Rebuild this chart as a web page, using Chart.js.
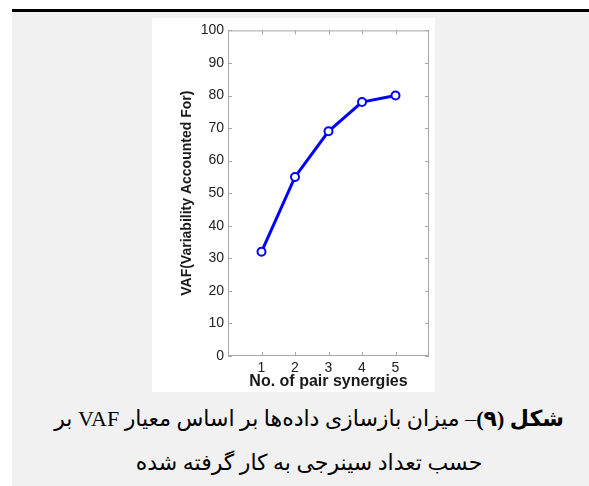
<!DOCTYPE html>
<html>
<head>
<meta charset="utf-8">
<script src="https://cdn.jsdelivr.net/npm/chart.js@4"></script>
<style>
  html, body { margin: 0; padding: 0; background: #fff; }
  body { width: 589px; height: 486px; position: relative; overflow: hidden; }
  #rule { position: absolute; left: 12px; top: 9px; width: 577px; height: 3px; background: #000; }
  #panel { position: absolute; left: 12px; top: 12px; width: 577px; height: 474px; background: #f1f1f1; }
  #figure { position: absolute; left: 152px; top: 18px; width: 283px; height: 374px; background: #fff; }
  #caption {
    position: absolute; left: 12px; top: 397px; width: 594px; text-align: center;
    direction: rtl; font-family: "Liberation Serif", "DejaVu Sans", serif;
    font-size: 22px; line-height: 44px; color: #000;
  }
</style>
</head>
<body>
<div id="rule"></div>
<div id="panel"></div>
<div id="figure"><canvas id="chart" width="283" height="374"></canvas></div>
<div id="caption"><b>شکل (۹)</b>– میزان بازسازی داده‌ها بر اساس معیار VAF بر<br>حسب تعداد سینرجی به کار گرفته شده</div>
<script>
// number of pair synergies vs VAF (%)
const synergies = [1, 2, 3, 4, 5];
const vafValues = [32, 55, 69, 78, 80];
const yTicks = [0, 10, 20, 30, 40, 50, 60, 70, 80, 90, 100];

// MATLAB-style box with inward ticks
const boxTicks = {
  id: 'boxTicks',
  afterDraw(chart) {
    const { ctx, chartArea: a, scales: { x, y } } = chart;
    ctx.save();
    ctx.strokeStyle = '#a8a8a8';
    ctx.lineWidth = 1;
    ctx.strokeRect(a.left + 0.5, a.top + 0.5, a.right - a.left - 1, a.bottom - a.top - 1);
    ctx.beginPath();
    synergies.forEach(v => {
      const px = Math.round(x.getPixelForValue(v)) + 0.5;
      ctx.moveTo(px, a.bottom); ctx.lineTo(px, a.bottom - 4);
      ctx.moveTo(px, a.top); ctx.lineTo(px, a.top + 4);
    });
    yTicks.forEach(v => {
      const py = Math.round(y.getPixelForValue(v)) + 0.5;
      ctx.moveTo(a.left, py); ctx.lineTo(a.left + 4, py);
      ctx.moveTo(a.right, py); ctx.lineTo(a.right - 4, py);
    });
    ctx.stroke();
    ctx.restore();
  }
};

new Chart(document.getElementById('chart'), {
  type: 'line',
  data: {
    datasets: [{
      data: synergies.map((s, i) => ({ x: s, y: vafValues[i] })),
      borderColor: '#0000ff',
      borderWidth: 3,
      pointRadius: 4,
      pointBorderWidth: 2,
      pointBackgroundColor: '#ffffff',
      pointBorderColor: '#0000ff',
      tension: 0
    }]
  },
  options: {
    responsive: false,
    animation: false,
    layout: { padding: { left: 0, right: 1, top: 7, bottom: 0 } },
    plugins: { legend: { display: false }, tooltip: { enabled: false } },
    scales: {
      x: {
        type: 'linear', min: 0, max: 6,
        afterBuildTicks: s => { s.ticks = synergies.map(v => ({ value: v })); },
        afterFit: s => { s.height = 36; },
        grid: { display: false, drawTicks: false },
        border: { display: false },
        ticks: { color: '#222', padding: 4, font: { family: 'Liberation Sans', size: 14 } },
        title: { display: true, text: 'No. of pair synergies', color: '#1a1a1a',
                 padding: { top: 0, bottom: 1 }, font: { family: 'Liberation Sans', size: 16, weight: 'bold' } }
      },
      y: {
        min: 0, max: 100,
        afterBuildTicks: s => { s.ticks = yTicks.map(v => ({ value: v })); },
        afterFit: s => { s.width = 76; },
        grid: { display: false, drawTicks: false },
        border: { display: false },
        ticks: { color: '#222', padding: 4, font: { family: 'Liberation Sans', size: 14 } },
        title: { display: true, text: 'VAF(Variability Accounted For)', color: '#1a1a1a',
                 padding: { top: 27, bottom: 0 }, font: { family: 'Liberation Sans', size: 14, weight: 'bold' } }
      }
    }
  },
  plugins: [boxTicks]
});
</script>
</body>
</html>
